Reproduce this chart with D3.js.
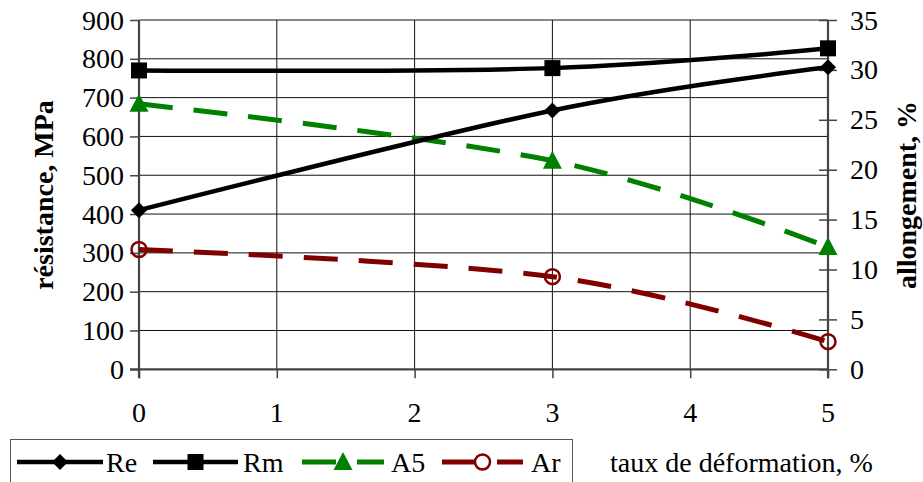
<!DOCTYPE html>
<html><head><meta charset="utf-8"><script src="https://cdn.jsdelivr.net/npm/d3@7"></script></head>
<body style="margin:0">
<svg id="chart" width="923" height="482"></svg>
<script>
// ---- data ----
const xValues = [0, 3, 5];
const reValues = [410, 667, 778];      // MPa, left axis
const rmValues = [770, 776, 827];      // MPa, left axis
const a5Values = [26.6, 20.9, 12.25];  // %, right axis
const arValues = [12.0, 9.28, 2.77];   // %, right axis
const xTicks = [0, 1, 2, 3, 4, 5];
const leftTicks = [0, 100, 200, 300, 400, 500, 600, 700, 800, 900];
const rightTicks = [0, 5, 10, 15, 20, 25, 30, 35];
const seriesNames = ["Re", "Rm", "A5", "Ar"];
const leftTitle = "résistance, MPa";
const rightTitle = "allongement, %";
const xTitle = "taux de déformation, %";

// ---- layout ----
const FONT = '"Liberation Serif"';
const FS = 28;
const svg = d3.select("#chart");
const x = d3.scaleLinear().domain([0, 5]).range([139, 828]);
const yL = d3.scaleLinear().domain([0, 900]).range([369.3, 20]);
const yR = d3.scaleLinear().domain([0, 35]).range([369.3, 20]);
const green = "#008000", red = "#800000";

// grid
const grid = svg.append("g");
grid.selectAll("line.h").data(leftTicks.filter(d => d > 0)).enter().append("line")
  .attr("x1", x(0)).attr("x2", x(5)).attr("y1", d => yL(d)).attr("y2", d => yL(d))
  .attr("stroke", "#111").attr("stroke-width", 1);
grid.selectAll("line.v").data(xTicks.filter(d => d > 0 && d < 5)).enter().append("line")
  .attr("y1", yL(0)).attr("y2", yL(900)).attr("x1", d => x(d)).attr("x2", d => x(d))
  .attr("stroke", "#111").attr("stroke-width", 1);

// axes (lines only from d3 axis; labels drawn as plain text below)
const axisColor = "#444";
const fmt = d3.format("d");
const leftAxis = d3.axisLeft(yL).tickValues(leftTicks).tickFormat("").tickSize(9);
const gL = svg.append("g").attr("transform", `translate(${x(0)},0)`).call(leftAxis);
const rightAxis = d3.axisRight(yR).tickValues(rightTicks).tickFormat("").tickSize(9);
const gR = svg.append("g").attr("transform", `translate(${x(5)},0)`).call(rightAxis);
gR.selectAll(".tick line").attr("x1", -9);
const bottomAxis = d3.axisBottom(x).tickValues(xTicks).tickFormat("").tickSize(9);
const gB = svg.append("g").attr("transform", `translate(0,${yL(0)})`).call(bottomAxis);
[gL, gR, gB].forEach(g => {
  g.select(".domain").attr("stroke", axisColor).attr("stroke-width", 2.2);
  g.selectAll(".tick line").attr("stroke", axisColor).attr("stroke-width", 1.5);
  g.selectAll(".tick text").remove();
});
gL.select(".domain").attr("d", `M0,${yL(900)}V${yL(0) + 9}`);
gR.select(".domain").attr("d", `M0,${yL(900)}V${yL(0) + 9}`);
gB.select(".domain").attr("d", `M${x(0) - 9},0H${x(5)}`);

function addText(sel) {
  return sel.append("text").style("font-family", FONT).attr("font-size", FS).attr("fill", "#000");
}

// tick labels
const labels = svg.append("g");
leftTicks.forEach(t => addText(labels).attr("x", x(0) - 15).attr("y", yL(t)).attr("dy", "0.34em")
  .attr("text-anchor", "end").text(fmt(t)));
rightTicks.forEach(t => addText(labels).attr("x", x(5) + 22).attr("y", yR(t)).attr("dy", "0.34em")
  .attr("text-anchor", "start").text(fmt(t)));
xTicks.forEach(t => addText(labels).attr("x", x(t)).attr("y", 422)
  .attr("text-anchor", "middle").text(fmt(t)));

// axis titles
addText(svg).attr("transform", `translate(53,195) rotate(-90)`)
  .attr("text-anchor", "middle").attr("font-weight", "bold").text(leftTitle);
addText(svg).attr("transform", `translate(916,195) rotate(-90)`)
  .attr("text-anchor", "middle").attr("font-weight", "bold").text(rightTitle);

// lines
const curve = d3.curveCatmullRom.alpha(0);
const lineL = d3.line().x((d, i) => x(xValues[i])).y(d => yL(d)).curve(curve);
const lineR = d3.line().x((d, i) => x(xValues[i])).y(d => yR(d)).curve(curve);
const dash = "34,21";

const series = [
  { name: "Re", vals: reValues, gen: lineL, scale: yL, color: "#000", dash: null, marker: "diamond" },
  { name: "Rm", vals: rmValues, gen: lineL, scale: yL, color: "#000", dash: null, marker: "square" },
  { name: "A5", vals: a5Values, gen: lineR, scale: yR, color: green, dash: dash, marker: "triangle" },
  { name: "Ar", vals: arValues, gen: lineR, scale: yR, color: red, dash: dash, marker: "circle" }
];

function drawMarker(g, type, cx, cy, color) {
  if (type === "diamond") {
    g.append("path").attr("d", `M${cx},${cy - 8}L${cx + 8},${cy}L${cx},${cy + 8}L${cx - 8},${cy}Z`).attr("fill", color);
  } else if (type === "square") {
    g.append("rect").attr("x", cx - 8).attr("y", cy - 8).attr("width", 16).attr("height", 16).attr("fill", color);
  } else if (type === "triangle") {
    g.append("path").attr("d", `M${cx},${cy - 10}L${cx + 9.5},${cy + 8}L${cx - 9.5},${cy + 8}Z`).attr("fill", color);
  } else if (type === "circle") {
    g.append("circle").attr("cx", cx).attr("cy", cy).attr("r", 7.5).attr("fill", "none")
      .attr("stroke", color).attr("stroke-width", 2.5);
  }
}

const plot = svg.append("g");
series.slice().reverse().forEach(s => {
  plot.append("path").datum(s.vals).attr("d", s.gen).attr("fill", "none")
    .attr("stroke", s.color).attr("stroke-width", s.dash ? 5 : 4.5)
    .attr("stroke-dasharray", s.dash);
});
series.slice().reverse().forEach(s => {
  s.vals.forEach((v, i) => drawMarker(plot, s.marker, x(xValues[i]), s.scale(v), s.color));
});

// legend
const lg = svg.append("g");
lg.append("rect").attr("x", 10.5).attr("y", 439.5).attr("width", 562).attr("height", 60)
  .attr("fill", "#fff").attr("stroke", "#555").attr("stroke-width", 1);
const legendPos = [
  { x1: 17, x2: 103, tx: 106 },
  { x1: 153, x2: 238, tx: 243 },
  { x1: 302, x2: 384, tx: 391 },
  { x1: 442, x2: 523, tx: 531 }
];
series.forEach((s, i) => {
  const p = legendPos[i];
  const ly = 462;
  lg.append("line").attr("x1", p.x1).attr("x2", p.x2).attr("y1", ly).attr("y2", ly)
    .attr("stroke", s.color).attr("stroke-width", s.dash ? 5 : 4.5)
    .attr("stroke-dasharray", s.dash);
  drawMarker(lg, s.marker, (p.x1 + p.x2) / 2, ly, s.color);
  addText(lg).attr("x", p.tx).attr("y", 472).text(seriesNames[i]);
});

addText(svg).attr("x", 610).attr("y", 472).text(xTitle);
</script>
</body>
</html>
